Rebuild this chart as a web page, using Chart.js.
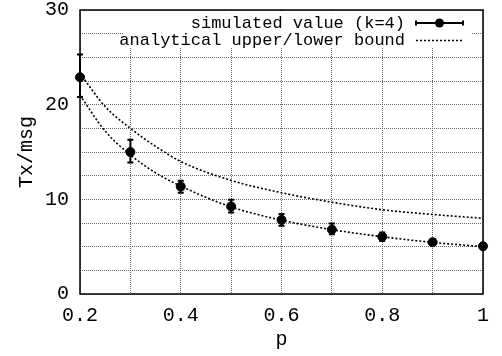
<!DOCTYPE html>
<html>
<head>
<meta charset="utf-8">
<title>Tx/msg vs p</title>
<script src="https://cdn.jsdelivr.net/npm/chart.js@4"></script>
<style>
  html, body { margin: 0; padding: 0; background: #fff; }
  #wrap { width: 502px; height: 356px; }
</style>
</head>
<body>
<div id="wrap"><canvas id="txChart" width="502" height="356"></canvas></div>
<script>
// Simulated value (k=4): mean and error bar ends per p
const pValues = [0.2, 0.3, 0.4, 0.5, 0.6, 0.7, 0.8, 0.9, 1.0];
const simMean = [22.9, 15.0, 11.35, 9.25, 7.83, 6.8, 6.06, 5.47, 5.05];
const simLow  = [20.8, 13.9, 10.7, 8.6, 7.2, 6.3, 5.6, 5.2, 4.85];
const simHigh = [25.3, 16.3, 11.95, 9.95, 8.45, 7.45, 6.5, 5.75, 5.25];

// Analytical bounds
const boundP     = [0.2, 0.25, 0.3, 0.35, 0.4, 0.5, 0.6, 0.7, 0.8, 0.9, 1.0];
const upperBound = [23.3, 19.8, 17.5, 15.6, 14.0, 12.0, 10.7, 9.7, 8.9, 8.4, 8.0];
const lowerBound = [21.0, 17.2, 14.7, 12.8, 11.4, 9.2, 7.8, 6.8, 6.05, 5.45, 5.0];

// Labelled ticks (grid lines are drawn at every minor step too)
const xTickLabels = [0.2, 0.4, 0.6, 0.8, 1];
const yTickLabels = [0, 10, 20, 30];

const seriesLabels = ['simulated value (k=4)', 'analytical upper/lower bound'];

const monoFont = "'Liberation Mono', 'DejaVu Sans Mono', monospace";

function toPoints(xs, ys) {
    return xs.map(function(x, i) { return { x: x, y: ys[i] }; });
}

// error bars for the simulated series
const errorBarPlugin = {
    id: 'errorBars',
    afterDatasetsDraw: function(chart) {
        const ctx = chart.ctx;
        const xScale = chart.scales.x;
        const yScale = chart.scales.y;
        ctx.save();
        ctx.strokeStyle = '#000';
        ctx.lineWidth = 2;
        pValues.forEach(function(p, i) {
            const x = xScale.getPixelForValue(p);
            const yLo = yScale.getPixelForValue(simLow[i]);
            const yHi = yScale.getPixelForValue(simHigh[i]);
            ctx.beginPath();
            ctx.moveTo(x, yLo); ctx.lineTo(x, yHi);
            ctx.moveTo(x - 3, yLo); ctx.lineTo(x + 3, yLo);
            ctx.moveTo(x - 3, yHi); ctx.lineTo(x + 3, yHi);
            ctx.stroke();
        });
        ctx.restore();
    }
};

// gnuplot-style key in the top right plus the plot border
const keyAndFramePlugin = {
    id: 'keyAndFrame',
    afterDraw: function(chart) {
        const ctx = chart.ctx;
        const area = chart.chartArea;
        ctx.save();

        // white key box over the grid
        ctx.fillStyle = '#fff';
        ctx.fillRect(123, area.top + 1, area.right - 11 - 123, 36);

        const textRight = area.right - 78;
        const sampleL = area.right - 67;
        const sampleR = area.right - 20;
        const row1 = area.top + 13;
        const row2 = area.top + 30.5;

        ctx.fillStyle = '#000';
        ctx.font = '17px ' + monoFont;
        ctx.textAlign = 'right';
        ctx.textBaseline = 'middle';
        ctx.fillText(seriesLabels[0], textRight, row1);
        ctx.fillText(seriesLabels[1], textRight, row2);

        // sample: error bar with point
        ctx.strokeStyle = '#000';
        ctx.lineWidth = 2;
        ctx.beginPath();
        ctx.moveTo(sampleL, row1); ctx.lineTo(sampleR, row1);
        ctx.moveTo(sampleL, row1 - 2.5); ctx.lineTo(sampleL, row1 + 2.5);
        ctx.moveTo(sampleR, row1 - 2.5); ctx.lineTo(sampleR, row1 + 2.5);
        ctx.stroke();
        ctx.beginPath();
        ctx.arc((sampleL + sampleR) / 2, row1, 4.5, 0, Math.PI * 2);
        ctx.fill();

        // sample: dotted bound line
        ctx.lineWidth = 1.5;
        ctx.setLineDash([2, 2]);
        ctx.beginPath();
        ctx.moveTo(sampleL, row2); ctx.lineTo(sampleR, row2);
        ctx.stroke();
        ctx.setLineDash([]);

        // border
        ctx.lineWidth = 1.5;
        ctx.strokeRect(area.left, area.top, area.right - area.left, area.bottom - area.top);
        ctx.restore();
    }
};

document.addEventListener('DOMContentLoaded', function() {
    const ctx = document.getElementById('txChart').getContext('2d');
    Chart.defaults.color = '#000';

    new Chart(ctx, {
        type: 'scatter',
        data: {
            datasets: [{
                label: seriesLabels[0],
                data: toPoints(pValues, simMean),
                showLine: false,
                pointRadius: 4.5,
                pointHoverRadius: 4.5,
                backgroundColor: '#000',
                borderColor: '#000',
                clip: false,
                order: 0
            }, {
                label: seriesLabels[1],
                data: toPoints(boundP, upperBound),
                showLine: true,
                cubicInterpolationMode: 'monotone',
                borderColor: '#000',
                borderWidth: 1.6,
                borderDash: [2, 2],
                pointRadius: 0,
                order: 1
            }, {
                label: seriesLabels[1],
                data: toPoints(boundP, lowerBound),
                showLine: true,
                cubicInterpolationMode: 'monotone',
                borderColor: '#000',
                borderWidth: 1.6,
                borderDash: [2, 2],
                pointRadius: 0,
                order: 1
            }]
        },
        options: {
            responsive: false,
            animation: false,
            layout: { padding: { top: 10, right: 19, left: 0, bottom: 0 } },
            plugins: {
                legend: { display: false },
                tooltip: { enabled: false }
            },
            scales: {
                x: {
                    type: 'linear',
                    min: 0.2,
                    max: 1.0,
                    grid: { color: '#666', lineWidth: 1, drawTicks: false },
                    border: { display: false, dash: [1, 1] },
                    ticks: {
                        stepSize: 0.1,
                        autoSkip: false,
                        maxRotation: 0,
                        padding: 10,
                        font: { family: monoFont, size: 20 },
                        callback: function(value) {
                            const v = Math.round(value * 10) / 10;
                            return xTickLabels.indexOf(v) >= 0 ? String(v) : '';
                        }
                    },
                    title: {
                        display: true,
                        text: 'p',
                        font: { family: monoFont, size: 20 },
                        padding: { top: 0, bottom: 4 }
                    },
                    afterFit: function(scale) {
                        scale.height = 62;
                    }
                },
                y: {
                    min: 0,
                    max: 30,
                    grid: { color: '#666', lineWidth: 1, drawTicks: false },
                    border: { display: false, dash: [1, 1] },
                    ticks: {
                        stepSize: 2.5,
                        autoSkip: false,
                        padding: 11,
                        font: { family: monoFont, size: 20 },
                        callback: function(value) {
                            return yTickLabels.indexOf(value) >= 0 ? String(value) : '';
                        }
                    },
                    title: {
                        display: true,
                        text: 'Tx/msg',
                        font: { family: monoFont, size: 20 },
                        padding: { top: 15, bottom: 0 }
                    },
                    afterFit: function(scale) {
                        scale.width = 80;
                        scale.paddingTop = 0;
                        scale.paddingBottom = 0;
                    }
                }
            }
        },
        plugins: [errorBarPlugin, keyAndFramePlugin]
    });
});
</script>
</body>
</html>
